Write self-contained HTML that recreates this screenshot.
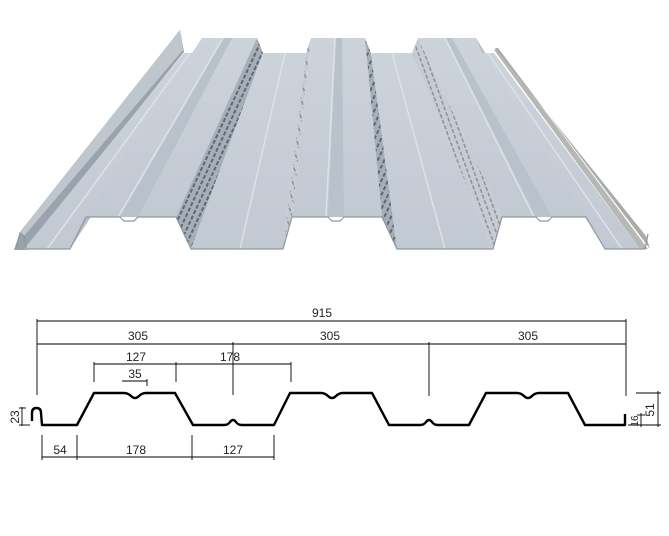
<!DOCTYPE html>
<html><head><meta charset="utf-8"><style>
html,body{margin:0;padding:0;background:#fff;}
svg{display:block;}
text{font-family:"Liberation Sans",sans-serif;font-size:12px;fill:#222;}
</style></head><body>
<svg width="669" height="536" viewBox="0 0 669 536" xmlns="http://www.w3.org/2000/svg">
<defs>
<pattern id="holesL" width="6" height="6" patternUnits="userSpaceOnUse" patternTransform="rotate(25)">
<rect width="6" height="6" fill="#a6aeb8"/><rect x="1" y="0" width="2" height="4" fill="#5f6873"/></pattern>
<pattern id="holesR" width="6" height="6" patternUnits="userSpaceOnUse" patternTransform="rotate(-20)">
<rect width="6" height="6" fill="#c6ccd2"/><rect x="2" y="0" width="1.5" height="4" fill="#8a929c"/></pattern>
<linearGradient id="flat" x1="0" y1="0" x2="0" y2="1"><stop offset="0" stop-color="#cdd3db"/><stop offset="1" stop-color="#c2c9d2"/></linearGradient>
</defs>
<g stroke="none">
<polygon points="14,250 20,232 180,30 184,52 26,250" fill="#9aa2ab"/>
<polygon points="20,232 24,236 183,50 180,30" fill="#bfc6ce"/>
<polygon points="24,249 70,249 196,53 184,53" fill="url(#flat)"/>
<polygon points="70,249 86,217 202,38 196,53" fill="#b3bbc4"/>
<polygon points="86,217 176,217 257,38 202,38" fill="url(#flat)"/>
<polygon points="176,217 191,249 263,53 257,38" fill="url(#holesL)"/>
<polygon points="191,249 283,249 306,53 263,53" fill="url(#flat)"/>
<polygon points="283,249 292,217 311,38 306,53" fill="url(#holesR)"/>
<polygon points="292,217 382,217 365,38 311,38" fill="url(#flat)"/>
<polygon points="382,217 397,249 371,53 365,38" fill="url(#holesL)"/>
<polygon points="397,249 493,249 412,53 371,53" fill="url(#flat)"/>
<polygon points="493,249 502,217 418,38 412,53" fill="url(#holesR)"/>
<polygon points="502,217 586,217 476,38 418,38" fill="url(#flat)"/>
<polygon points="586,217 605,249 482,53 476,38" fill="#b7bfc8"/>
<polygon points="605,249 640,249 494,53 482,53" fill="url(#flat)"/>
<polygon points="640,249 648,249 498,48 494,50" fill="#b5b8b4"/>
<polygon points="646,236 650,249 498,48 495,48" fill="#a9aca8"/>
</g>
<!-- groove channels on tops -->
<g stroke="none">
<polygon points="120,217 138,217 232,38 224,38" fill="#b9c1ca"/>
<polygon points="328,217 344,217 342,38 336,38" fill="#b9c1ca"/>
<polygon points="536,217 552,217 452,38 446,38" fill="#b9c1ca"/>
</g>
<g stroke="#dde2e8" stroke-width="1.5" fill="none">
<line x1="118" y1="217" x2="223" y2="38"/><line x1="240" y1="249" x2="285" y2="53"/>
<line x1="326" y1="217" x2="335" y2="38"/><line x1="445" y1="249" x2="392" y2="53"/>
<line x1="534" y1="217" x2="445" y2="38"/>
<line x1="47" y1="249" x2="190" y2="53"/><line x1="622" y1="249" x2="488" y2="53"/>
</g>
<polyline points="16,249 20,233 24,236 26,249 70,249 86,217 120,217 124,221 134,221 138,217 176,217 191,249 283,249 292,217 328,217 332,221 340,221 344,217 382,217 397,249 493,249 502,217 536,217 540,221 548,221 552,217 586,217 605,249 645,249 648,234" fill="none" stroke="#8f979f" stroke-width="1.2"/>

<path d="M32,421 L32,413 Q32,408 36.5,408 Q41,408 41,413 L42,425 L77,425 L94,393 L124,393 Q128,393 131,396 Q135,400 139,396 Q142,393 146,393 L175,393 L193,425 L224,425 Q228,425 230,422 Q233,418 236,422 Q238,425 242,425 L274,425 L290,393 L321,393 Q325,393 328,396 Q332,400 336,396 Q339,393 343,393 L372,393 L389,425 L420,425 Q424,425 426,422 Q429,418 432,422 Q434,425 438,425 L469,425 L486,393 L517,393 Q521,393 524,396 Q528,400 532,396 Q535,393 539,393 L568,393 L585,425 L625,425 L625,414" fill="none" stroke="#000" stroke-width="2.4" stroke-linejoin="round"/>
<g stroke="#000" stroke-width="0.9" fill="none">
<line x1="37" y1="321" x2="626" y2="321"/>
<line x1="37" y1="344" x2="626" y2="344"/>
<line x1="37" y1="319" x2="37" y2="395"/>
<line x1="626" y1="319" x2="626" y2="396"/>
<line x1="233" y1="342" x2="233" y2="395"/>
<line x1="429" y1="342" x2="429" y2="396"/>
<line x1="94" y1="364" x2="291" y2="364"/>
<line x1="94" y1="362" x2="94" y2="382"/>
<line x1="176" y1="362" x2="176" y2="382"/>
<line x1="291" y1="362" x2="291" y2="382"/>
<line x1="122" y1="381" x2="147" y2="381"/>
<line x1="147" y1="379" x2="147" y2="386"/>
<line x1="42" y1="457" x2="274" y2="457"/>
<line x1="42" y1="435" x2="42" y2="460"/>
<line x1="77" y1="435" x2="77" y2="460"/>
<line x1="192" y1="435" x2="192" y2="460"/>
<line x1="274" y1="435" x2="274" y2="460"/>
<line x1="22" y1="407" x2="22" y2="426"/>
<line x1="19" y1="408" x2="26" y2="408"/>
<line x1="19" y1="425" x2="30" y2="425"/>
<line x1="636" y1="393" x2="661" y2="393"/>
<line x1="628" y1="425" x2="661" y2="425"/>
<line x1="658" y1="391" x2="658" y2="427"/>
<line x1="641" y1="413" x2="641" y2="427"/>
<line x1="637" y1="415" x2="645" y2="415"/>
</g>
<text x="322" y="317" text-anchor="middle">915</text>
<text x="138" y="340" text-anchor="middle">305</text>
<text x="330" y="340" text-anchor="middle">305</text>
<text x="528" y="340" text-anchor="middle">305</text>
<text x="136" y="361" text-anchor="middle">127</text>
<text x="230" y="361" text-anchor="middle">178</text>
<text x="135" y="378" text-anchor="middle">35</text>
<text x="60" y="454" text-anchor="middle">54</text>
<text x="136" y="454" text-anchor="middle">178</text>
<text x="233" y="454" text-anchor="middle">127</text>
<text transform="translate(19,417) rotate(-90)" text-anchor="middle">23</text>
<text transform="translate(654,410) rotate(-90)" text-anchor="middle">51</text>
<text transform="translate(638,421) rotate(-90)" text-anchor="middle" style="font-size:10px">16</text>
</svg>
</body></html>
